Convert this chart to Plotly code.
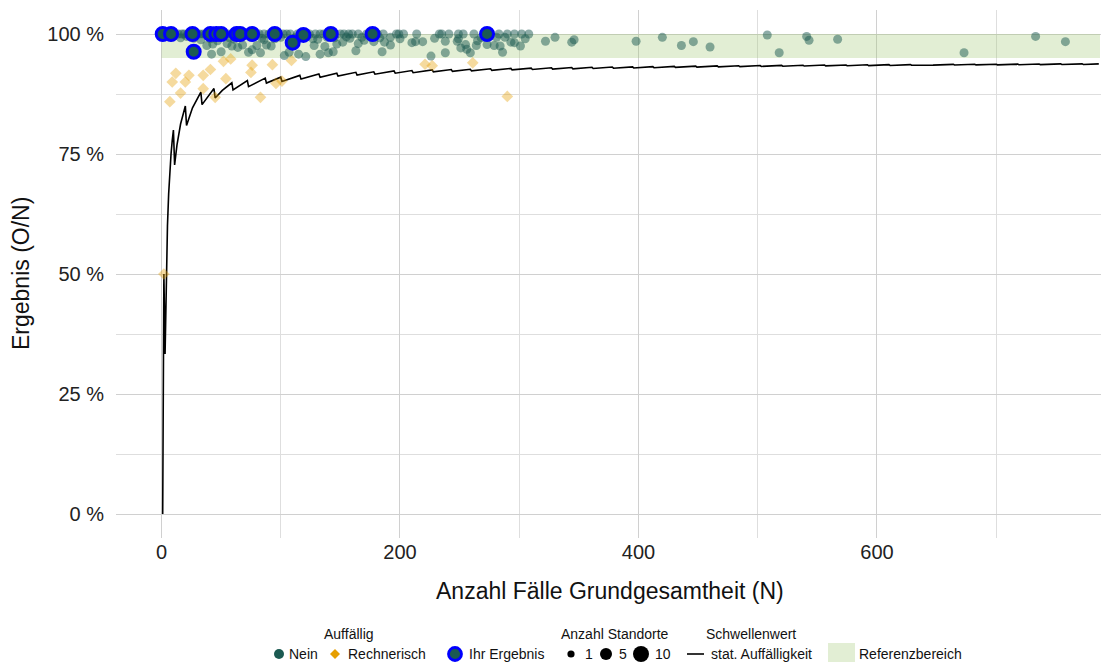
import plotly.graph_objects as go

# ---------------- data ----------------
# Referenzbereich (percent) and its N extent
ref_low, ref_high = 95.0, 100.0
ref_n_min, ref_n_max = 0, 787

# Schwellenwert "stat. Auffälligkeit" (vertices of the saw-tooth line)
thr_n = [1, 2, 3, 4, 5, 6, 7, 8, 9, 10, 11, 13, 16, 20, 21, 26, 33, 34, 44, 45, 51, 59,
         60, 72, 73, 87, 88, 100, 101, 116, 117, 132, 133, 147, 148, 163, 164, 178,
         179, 195, 196, 210, 211, 227, 228, 243, 244, 259, 260, 276, 277, 293, 294, 310,
         311, 327, 328, 344, 345, 361, 362, 378, 379, 395, 396, 412, 413, 430, 431, 448,
         449, 466, 467, 484, 485, 502, 503, 520, 521, 538, 539, 556, 557, 574, 575, 592,
         593, 610, 611, 628, 629, 646, 647, 664, 665, 682, 683, 700, 701, 718, 719, 736,
         737, 754, 755, 772, 773, 786]
thr_y = [0, 50, 33.33, 50, 60, 66.67, 71.43, 75, 77.78, 80, 72.73, 76.92, 81.25, 85,
         80.95, 84.62, 87.88, 85.29, 88.64, 86.67, 88.24, 89.83,
         88.33, 90.28, 89.04, 90.80, 89.77, 91.00, 90.10, 91.38, 90.60, 91.67, 90.98, 91.84,
         91.22, 92.02, 91.46, 92.13, 91.62, 92.31, 91.84, 92.38, 91.94, 92.51, 92.11, 92.59,
         92.21, 92.66, 92.31, 92.75, 92.42, 92.83, 92.52, 92.90, 92.60, 92.97, 92.68, 93.02,
         92.75, 93.07, 92.82, 93.12, 92.88, 93.16, 92.93, 93.20, 92.98, 93.26, 93.04, 93.30,
         93.10, 93.35, 93.15, 93.39, 93.20, 93.43, 93.24, 93.46, 93.28, 93.49, 93.32, 93.53,
         93.36, 93.55, 93.39, 93.58, 93.42, 93.61, 93.45, 93.63, 93.48, 93.65, 93.51, 93.67,
         93.53, 93.70, 93.56, 93.71, 93.58, 93.73, 93.60, 93.75, 93.62, 93.77, 93.64, 93.78,
         93.66, 93.77]

# Auffällig = Nein : results at 100 %
nein_top_n = [2, 4, 6, 11, 14, 17, 19, 22, 25, 30, 32, 35, 37, 39, 42, 48, 53, 56, 59, 62,
              69, 72, 79, 82, 86, 90, 93, 98, 102, 105, 108, 114, 118, 124, 129, 133, 136,
              142, 150, 153, 157, 160, 165, 172, 181, 186, 197, 199, 203, 214, 233, 235,
              241, 249, 253, 262, 283, 290, 296, 302, 308]
nein_top_y = [100.0] * len(nein_top_n)

# Auffällig = Nein : results just below 100 %
nein_near_n = [8, 16, 21, 27, 33, 41, 45, 47, 50, 57, 61, 65, 75, 84, 86, 95, 100, 110, 112,
               121, 127, 131, 139, 145, 155, 158, 168, 170, 176, 178, 183, 192, 200, 229,
               249, 268, 281, 288, 305, 330, 420, 508, 541, 733]
nein_near_y = [99.4, 99.2, 99.5, 99.1, 98.8, 99.0, 99.3, 98.6, 99.4, 99.2, 98.9, 99.3, 99.4,
               99.1, 98.8, 99.0, 99.3, 98.6, 99.2, 99.4, 99.0, 98.9, 99.3, 99.2, 99.4, 99.1,
               99.3, 98.7, 99.4, 98.4, 99.2, 99.3, 99.0, 99.1, 99.0, 99.2, 99.3, 99.3, 99.0,
               99.3, 99.3, 99.8, 99.5, 99.5]

# Auffällig = Nein : results spread inside the reference range
nein_mid_n = [38, 42, 43, 50, 55, 59, 64, 68, 73, 76, 80, 83, 88, 92, 103, 107, 115, 121, 128,
              133, 137, 140, 144, 147, 152, 163, 165, 185, 187, 192, 210, 213, 219, 226, 238,
              238, 248, 251, 255, 256, 259, 264, 265, 273, 279, 284, 286, 293, 296, 301, 322,
              344, 346, 398, 436, 446, 460, 518, 543, 567, 673, 758]
nein_mid_y = [97.6, 95.8, 97.9, 96.3, 98.0, 97.5, 97.2, 97.7, 96.2, 96.7, 97.6, 96.1, 97.7,
              97.5, 95.5, 96.2, 95.8, 95.3, 97.6, 95.8, 97.4, 96.1, 96.3, 97.9, 98.3, 96.5,
              98.0, 96.3, 98.3, 97.7, 98.2, 98.4, 98.4, 95.4, 98.5, 96.1, 98.5, 97.1, 97.8,
              96.8, 96.1, 97.6, 98.6, 97.8, 97.6, 97.5, 96.2, 98.3, 98.2, 97.5, 98.5, 98.3,
              98.8, 98.5, 97.6, 98.4, 97.3, 96.1, 98.7, 98.9, 96.1, 98.4]

# Auffällig = Rechnerisch
rech_n = [2, 7, 9, 12, 16, 20, 23, 35, 35, 41, 45, 52, 54, 58, 75, 76, 83, 93, 96, 101, 109,
          221, 227, 261, 290]
rech_y = [50, 85.9, 90.0, 91.8, 87.7, 90.0, 91.4, 91.4, 88.6, 92.6, 86.8, 94.3, 90.7, 94.8,
          92.0, 93.5, 86.8, 93.6, 89.7, 90.2, 94.5, 93.7, 93.4, 94.0, 87.0]

# Ihr Ergebnis
ihr_n = [1, 8, 26, 27, 41, 46, 50, 63, 66, 76, 95, 110, 119, 142, 177, 273]
ihr_y = [100, 100, 100, 96.3, 100, 100, 100, 100, 100, 100, 100, 98.2, 99.8, 100, 100, 100]

# axis ticks
x_ticks = [0, 200, 400, 600]
x_minor = [100, 300, 500, 700]
y_ticks = [0, 25, 50, 75, 100]
y_minor = [12.5, 37.5, 62.5, 87.5]
y_ticktext = ["0 %", "25 %", "50 %", "75 %", "100 %"]

# ---------------- styling ----------------
TEAL = "#1B5A52"
ORANGE = "#E69F00"
BAND = "rgba(158,198,112,0.30)"
FONT = "Liberation Sans"

nein_n = nein_top_n + nein_near_n + nein_mid_n
nein_y = nein_top_y + nein_near_y + nein_mid_y

fig = go.Figure()

fig.add_trace(go.Scatter(
    x=[ref_n_min, ref_n_max, ref_n_max, ref_n_min, ref_n_min],
    y=[ref_low, ref_low, ref_high, ref_high, ref_low],
    fill="toself", fillcolor=BAND, line=dict(width=0), mode="lines",
    hoverinfo="skip", showlegend=False))

fig.add_trace(go.Scatter(
    x=thr_n, y=thr_y, mode="lines",
    line=dict(color="black", width=1.6), showlegend=False))

fig.add_trace(go.Scatter(
    x=rech_n, y=rech_y, mode="markers",
    marker=dict(symbol="diamond", size=9, color=ORANGE, opacity=0.38, line=dict(width=0)),
    showlegend=False))

fig.add_trace(go.Scatter(
    x=nein_n, y=nein_y, mode="markers",
    marker=dict(size=9, color=TEAL, opacity=0.5, line=dict(width=0)),
    showlegend=False))

fig.add_trace(go.Scatter(
    x=ihr_n, y=ihr_y, mode="markers",
    marker=dict(size=13, color=TEAL, line=dict(color="#0000FF", width=3)),
    showlegend=False))

# page body has an 8px margin: the figure is drawn 8px right/down of the window corner
OFF = 8
W, H = 1109 - OFF, 662 - OFF
L, R, T = 116 - OFF, 5, 10 - OFF
B = H - (538 - OFF)
PW, PH = W - L - R, H - T - B


def px(p):
    return (p - OFF - L) / PW


def py(p):
    return (H - B - (p - OFF)) / PH


x0 = -38.15
x1 = x0 + PW / 1.1925

fig.update_layout(
    width=W, height=H,
    margin=dict(l=L, r=R, t=T, b=B),
    paper_bgcolor="white", plot_bgcolor="white",
    font=dict(family=FONT, color="#1a1a1a"),
    showlegend=False,
    xaxis=dict(range=[x0, x1], tickvals=x_ticks, showgrid=True, gridcolor="#d0d0d0",
               gridwidth=1.2, zeroline=False, showline=False, ticks="",
               tickfont=dict(size=20, color="#222222", family=FONT),
               minor=dict(tickvals=x_minor, showgrid=True,
                          gridcolor="#dedede", gridwidth=1.0)),
    yaxis=dict(range=[-5, 105], tickvals=y_ticks, ticktext=y_ticktext, showgrid=True,
               gridcolor="#d0d0d0", gridwidth=1.2, zeroline=False, showline=False,
               ticks="outside", ticklen=7, tickcolor="rgba(0,0,0,0)",
               tickfont=dict(size=20, color="#222222", family=FONT),
               minor=dict(tickvals=y_minor, showgrid=True,
                          gridcolor="#dedede", gridwidth=1.0)),
)

ann = []
shapes = []

# axis titles
ann.append(dict(text="Anzahl Fälle Grundgesamtheit (N)", x=0.5, y=py(591), xref="paper",
                yref="paper", showarrow=False, xanchor="center", yanchor="middle",
                font=dict(size=23, color="#111111", family=FONT)))
ann.append(dict(text="Ergebnis (O/N)", x=px(21), y=0.5, xref="paper", yref="paper",
                showarrow=False, textangle=-90, xanchor="center", yanchor="middle",
                font=dict(size=23, color="#111111", family=FONT)))

# legend
TY, IY = 634, 654
lf = dict(size=14, color="#111111", family=FONT)
for t, cx in [("Auffällig", 349), ("Anzahl Standorte", 615), ("Schwellenwert", 751)]:
    ann.append(dict(text=t, x=px(cx), y=py(TY), xref="paper", yref="paper", showarrow=False,
                    xanchor="center", yanchor="middle", font=lf))
for t, lx in [("Nein", 287), ("Rechnerisch", 346), ("Ihr Ergebnis", 467), ("1", 583),
              ("5", 617), ("10", 653), ("stat. Auffälligkeit", 709), ("Referenzbereich", 857)]:
    ann.append(dict(text=t, x=px(lx), y=py(IY), xref="paper", yref="paper", showarrow=False,
                    xanchor="left", yanchor="middle", font=lf))


def circ(cx, r, fill, lc=None, lw=0):
    return dict(type="circle", xref="paper", yref="paper", xsizemode="pixel",
                ysizemode="pixel", xanchor=px(cx), yanchor=py(IY),
                x0=-r, x1=r, y0=-r, y1=r, fillcolor=fill,
                line=dict(color=lc or fill, width=lw))


shapes.append(circ(279, 5, TEAL))
shapes.append(dict(type="path", xref="paper", yref="paper", xsizemode="pixel",
                   ysizemode="pixel", xanchor=px(335), yanchor=py(IY),
                   path="M 0 5 L 5 0 L 0 -5 L -5 0 Z", fillcolor=ORANGE,
                   line=dict(width=0)))
shapes.append(circ(455, 6.5, TEAL, "#0000FF", 2.8))
shapes.append(circ(571, 3.6, "black"))
shapes.append(circ(606, 6, "black"))
shapes.append(circ(641, 8, "black"))
shapes.append(dict(type="line", xref="paper", yref="paper", x0=px(687), x1=px(704),
                   y0=py(IY), y1=py(IY), line=dict(color="black", width=1.6)))
shapes.append(dict(type="rect", xref="paper", yref="paper", x0=px(828), x1=px(855),
                   y0=py(662), y1=py(643), fillcolor="#e2eed4", line=dict(width=0)))

fig.update_layout(annotations=ann, shapes=shapes)

fig.write_html("out.html")
